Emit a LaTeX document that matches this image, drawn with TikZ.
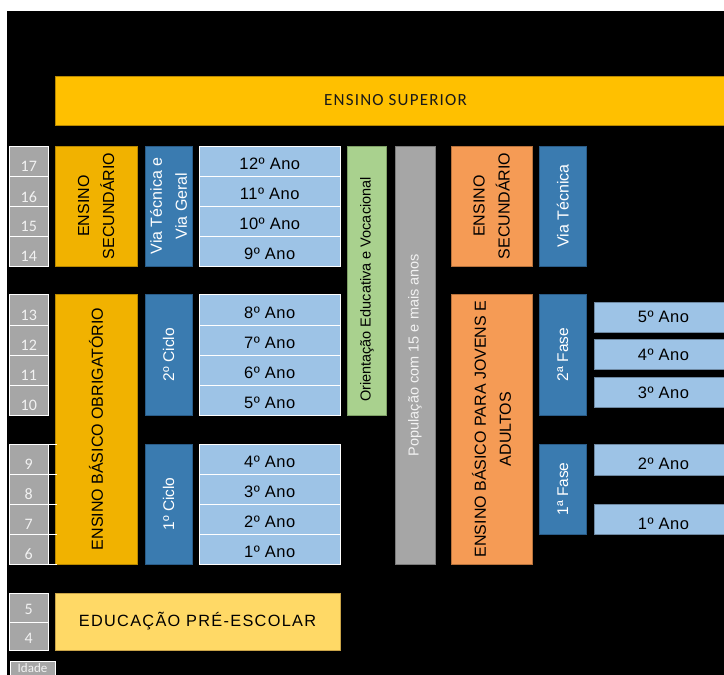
\documentclass[tikz,border=0pt]{standalone}
\usepackage{fontspec}
\setmainfont{Liberation Sans}
\newfontfamily\mycalib{Carlito}
\newfontfamily\mysupf[LetterSpace=7]{Carlito}
\newfontfamily\myyearf[LetterSpace=3]{Liberation Sans}
\newfontfamily\mypref[LetterSpace=8]{Liberation Sans}
\definecolor{csup}{HTML}{FFC000}
\definecolor{cgold}{HTML}{F1B200}
\definecolor{cgoldD}{HTML}{B88800}
\definecolor{cpre}{HTML}{FFD966}
\definecolor{cpreD}{HTML}{C9A448}
\definecolor{cblue}{HTML}{3A7BB0}
\definecolor{cblueD}{HTML}{2A5C88}
\definecolor{clblue}{HTML}{9DC3E6}
\definecolor{cgreen}{HTML}{A9D18E}
\definecolor{cgreenD}{HTML}{7FA066}
\definecolor{cgray}{HTML}{A6A6A6}
\definecolor{cgrayD}{HTML}{7A7A7A}
\definecolor{corange}{HTML}{F59B55}
\definecolor{corangeD}{HTML}{B8723C}
\definecolor{cagetext}{HTML}{F2F2F2}
\newcommand\myfA{\fontsize{16}{25}\selectfont}
\newcommand\myfY{\myyearf\fontsize{16.5}{20}\selectfont}
\newcommand\myfAge{\mycalib\fontsize{16}{18}\selectfont}
\newcommand\myfSup{\mysupf\fontsize{17}{20}\selectfont}
\newcommand\myfS{\fontsize{14.5}{18}\selectfont}
\newcommand\myfC{\fontsize{15.5}{18}\selectfont}
\newcommand\myfP{\mypref\fontsize{16.3}{20}\selectfont}
\newcommand\bxH[7]{\node[#1, minimum width={(#5-#3)*1pt}, minimum height={(#6-#4)*1pt}] (#2) at ({(#3+#5)/2},{(#4+#6)/2}) {#7};}
\newcommand\bxV[7]{\node[#1, rotate=90, minimum width={(#6-#4)*1pt}, minimum height={(#5-#3)*1pt}] (#2) at ({(#3+#5)/2},{(#4+#6)/2}) {#7};}
\newcommand\lowr[2]{\raisebox{-#1pt}[\height][\depth]{#2}}
\tikzset{
  cell/.style={rectangle, inner sep=0pt, outer sep=0pt, line width=0.8pt, align=center},
  supbox/.style={cell, fill=csup, draw=cgoldD, text=black!90, font=\myfSup},
  goldbox/.style={cell, fill=cgold, draw=cgoldD, text=black, font=\myfA},
  prebox/.style={cell, fill=cpre, draw=cpreD, text=black, font=\myfP},
  bluebox/.style={cell, fill=cblue, draw=cblueD, text=white, font=\myfA},
  cyclebox/.style={cell, fill=cblue, draw=cblueD, text=white, font=\myfC},
  yearbox/.style={cell, fill=clblue, draw=white, text=black, font=\myfY},
  ryearbox/.style={cell, fill=clblue, draw=clblue!70!black, line width=0.5pt, text=black, font=\myfY},
  greenbox/.style={cell, fill=cgreen, draw=cgreenD, text=black, font=\myfS},
  graybox/.style={cell, fill=cgray, draw=cgrayD, text=cagetext, font=\myfS},
  orangebox/.style={cell, fill=corange, draw=corangeD, text=black, font=\myfA},
  agebox/.style={cell, fill=cgray, draw=white, line width=1pt, text=cagetext, font=\myfAge},
  idadebox/.style={cell, fill=cgray, draw=white, line width=0.6pt, text=cagetext, font=\mycalib\fontsize{13}{14}\selectfont},
  sepline/.style={draw=white, line width=1pt}
}
\begin{document}
\begin{tikzpicture}[x=1pt,y=-1pt]
\path[use as bounding box, clip] (0,0) rectangle (724,675);
\fill[white] (0,0) rectangle (724,675);
\fill[black] (7,11) rectangle (724,675);
% Ensino superior
\bxH{supbox}{sup}{55}{76}{736}{125}{ENSINO SUPERIOR}
% left column
\bxV{goldbox}{sec}{55}{146}{137}{266}{ENSINO\\SECUNDÁRIO}
\bxV{goldbox}{bas}{55}{294}{137}{564}{ENSINO BÁSICO OBRIGATÓRIO}
\bxH{prebox}{pre}{55}{593}{340}{650}{EDUCAÇÃO PRÉ-ESCOLAR}
\bxV{bluebox}{via}{145}{146}{192}{266}{Via Técnica e\\Via Geral}
\bxV{cyclebox}{c2}{145}{294}{192}{415}{2º Ciclo}
\bxV{cyclebox}{c1}{145}{444}{192}{564}{1º Ciclo}
% ages
\bxH{agebox}{a17}{9.5}{146}{48}{176}{\lowr{5.5}{17}}
\bxH{agebox}{a16}{9.5}{176}{48}{206.5}{\lowr{5.5}{16}}
\bxH{agebox}{a15}{9.5}{206.5}{48}{236}{\lowr{5.5}{15}}
\bxH{agebox}{a14}{9.5}{236}{48}{266}{\lowr{5.5}{14}}
\bxH{agebox}{a13}{9.5}{294}{48}{325.5}{\lowr{5.5}{13}}
\bxH{agebox}{a12}{9.5}{325.5}{48}{355}{\lowr{5.5}{12}}
\bxH{agebox}{a11}{9.5}{355}{48}{385.5}{\lowr{5.5}{11}}
\bxH{agebox}{a10}{9.5}{385.5}{48}{415}{\lowr{5.5}{10}}
\bxH{agebox}{a9}{9.5}{444}{48}{474}{\lowr{5.5}{9}}
\bxH{agebox}{a8}{9.5}{474}{48}{504}{\lowr{5.5}{8}}
\bxH{agebox}{a7}{9.5}{504}{48}{534}{\lowr{5.5}{7}}
\bxH{agebox}{a6}{9.5}{534}{48}{564}{\lowr{5.5}{6}}
\bxH{agebox}{a5}{9.5}{593}{48}{622}{\lowr{2}{5}}
\bxH{agebox}{a4}{9.5}{622}{48}{650}{\lowr{2}{4}}
\bxH{idadebox}{idade}{10}{661}{55}{676}{Idade}
\foreach \yy in {444,474,504,534,564} {\path[sepline] (48,\yy) -- (57,\yy);}
% years
\bxH{yearbox}{y12}{199.5}{146}{340}{176}{\lowr{3}{12º Ano}}
\bxH{yearbox}{y11}{199.5}{176}{340}{206}{\lowr{3}{11º Ano}}
\bxH{yearbox}{y10}{199.5}{206}{340}{236}{\lowr{3}{10º Ano}}
\bxH{yearbox}{y9}{199.5}{236}{340}{266}{\lowr{3}{9º Ano}}
\bxH{yearbox}{y8}{199.5}{294}{340}{325.5}{\lowr{3}{8º Ano}}
\bxH{yearbox}{y7}{199.5}{325.5}{340}{355}{\lowr{3}{7º Ano}}
\bxH{yearbox}{y6}{199.5}{355}{340}{385}{\lowr{3}{6º Ano}}
\bxH{yearbox}{y5}{199.5}{385}{340}{415}{\lowr{3}{5º Ano}}
\bxH{yearbox}{y4}{199.5}{444}{340}{474}{\lowr{3}{4º Ano}}
\bxH{yearbox}{y3}{199.5}{474}{340}{504}{\lowr{3}{3º Ano}}
\bxH{yearbox}{y2}{199.5}{504}{340}{534}{\lowr{3}{2º Ano}}
\bxH{yearbox}{y1}{199.5}{534}{340}{564}{\lowr{3}{1º Ano}}
% middle
\bxV{greenbox}{ori}{347.5}{146}{386.5}{415}{Orientação Educativa e Vocacional\hspace*{18pt}}
\bxV{graybox}{pop}{395}{146}{435}{564}{População com 15 e mais anos}
% right
\bxV{orangebox}{rsec}{451}{146}{532}{266}{ENSINO\\SECUNDÁRIO}
\bxV{orangebox}{rbas}{451}{294}{532}{564}{ENSINO BÁSICO PARA JOVENS E\\ADULTOS}
\bxV{bluebox}{rvia}{539.5}{146}{586}{266}{Via Técnica}
\bxV{cyclebox}{f2}{539.5}{294}{586}{415}{2ª Fase}
\bxV{cyclebox}{f1}{539.5}{444}{586}{534}{1ª Fase}
\bxH{ryearbox}{r5}{594}{302}{733}{332}{5º Ano}
\bxH{ryearbox}{r4}{594}{339.5}{733}{369.5}{4º Ano}
\bxH{ryearbox}{r3}{594}{377.5}{733}{407.5}{3º Ano}
\bxH{ryearbox}{r2}{594}{444}{733}{475}{\lowr{4}{2º Ano}}
\bxH{ryearbox}{r1}{594}{504}{733}{534}{\lowr{5}{1º Ano}}
\end{tikzpicture}
\end{document}
